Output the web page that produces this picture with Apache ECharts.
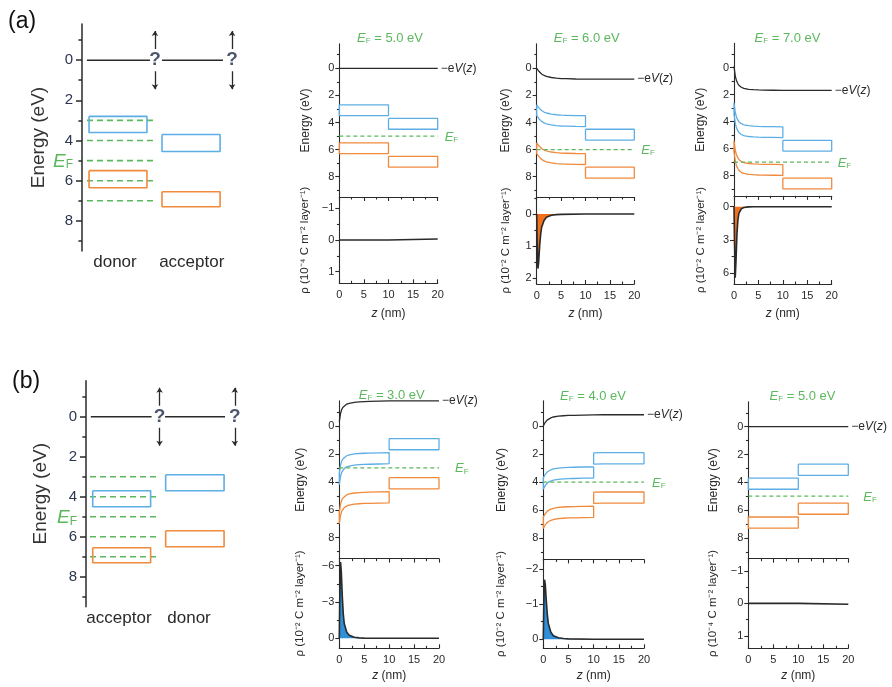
<!DOCTYPE html>
<html>
<head>
<meta charset="utf-8">
<script src="https://cdn.jsdelivr.net/npm/echarts@6/dist/echarts.min.js"></script>
<style>
  html, body { margin: 0; padding: 0; background: #fff; }
  #chart { width: 892px; height: 687px; }
</style>
</head>
<body>
<div id="chart"></div>
<script>
// depth (nm) where the potential / band edges were read
const zPts = [0, 0.25, 0.5, 0.75, 1, 1.5, 2, 3, 4, 5, 6, 8, 10, 12, 15, 20];
// depth (nm) where the charge density spikes were read
const zRho = [0, 0.1, 0.25, 0.4, 0.6, 0.8, 1, 1.5, 2, 3, 4, 5, 10, 20];
// flat density with a small step at the interface
const zStep = [0, 10, 10, 20];

// bands [upper edge, lower edge] in eV
const donorLumo = [2.7, 3.5];
const donorHomo = [5.5, 6.3];
const acceptorLumo = [3.7, 4.5];
const acceptorHomo = [6.5, 7.3];

// bands as drawn in the two schematics (left layer, right layer)
const schemALumo = [[2.8, 3.6], [3.7, 4.55]];
const schemAHomo = [[5.5, 6.35], [6.55, 7.3]];
const schemBLumo = [[3.7, 4.5], [2.9, 3.7]];
const schemBHomo = [[6.55, 7.3], [5.7, 6.5]];
const schemALabels = ['donor', 'acceptor'];
const schemBLabels = ['acceptor', 'donor'];
const fermiGuides = [3, 4, 5, 6, 7];

const efA = [5.0, 6.0, 7.0];
const efB = [3.0, 4.0, 5.0];

// -eV(z) in eV on zPts
const potA1 = [0, 0, 0, 0, 0, 0, 0, 0, 0, 0, 0, 0, 0, 0, 0, 0];
const potA2 = [0, 0.12, 0.24, 0.34, 0.42, 0.53, 0.6, 0.68, 0.73, 0.76, 0.77, 0.79, 0.8, 0.8, 0.8, 0.8];
const potA3 = [-0.1, 0.6, 0.95, 1.15, 1.3, 1.45, 1.53, 1.6, 1.63, 1.65, 1.66, 1.67, 1.68, 1.68, 1.68, 1.68];
const potB1 = [-0.3, -0.9, -1.2, -1.35, -1.45, -1.57, -1.63, -1.7, -1.73, -1.75, -1.76, -1.78, -1.8, -1.8, -1.8, -1.8];
const potB2 = [0, -0.18, -0.32, -0.42, -0.5, -0.58, -0.64, -0.7, -0.73, -0.75, -0.76, -0.78, -0.79, -0.8, -0.8, -0.8];
const potB3 = [0, 0, 0, 0, 0, 0, 0, 0, 0, 0, 0, 0, 0, 0, 0, 0];

// charge density per layer
const rhoA1 = [0, 0, -0.03, -0.03];
const rhoA2 = [0, 0.9, 1.7, 1.5, 1.0, 0.65, 0.42, 0.2, 0.1, 0.04, 0.02, 0.01, 0, 0];
const rhoA3 = [0, 3.0, 6.4, 5.0, 2.5, 1.2, 0.6, 0.2, 0.08, 0.02, 0.01, 0, 0, 0];
const rhoB1 = [0, -3.5, -6.3, -5.5, -3.5, -2.0, -1.2, -0.5, -0.25, -0.08, -0.03, -0.01, 0, 0];
const rhoB2 = [0, -1.0, -1.7, -1.55, -1.1, -0.7, -0.45, -0.2, -0.1, -0.04, -0.02, -0.01, 0, 0];
const rhoB3 = [0, 0, 0.03, 0.03];

const rhoTicks = [[-1, 0, 1], [0, 1, 2], [0, 3, 6], [-6, -3, 0], [-2, -1, 0], [-1, 0, 1]];
const rhoExp = ['⁻⁴', '⁻²', '⁻²', '⁻²', '⁻²', '⁻⁴'];
const energyTicks = [0, 2, 4, 6, 8];
const energyMinor = [-1, 1, 3, 5, 7, 9];

const FONT = 'Liberation Sans, Arial, Helvetica, sans-serif';
const INK = '#2a2a2a';
const BLUE = '#5eaee6';
const ORANGE = '#f08a3c';
const GREEN = '#5cb85c';
const FILL_ORANGE = '#f0701e';
const FILL_BLUE = '#2f8fd8';

const panels = [
  { ef: efA[0], pot: potA1, rz: zStep, rho: rhoA1, layers: [[donorLumo, donorHomo], [acceptorLumo, acceptorHomo]], fill: null },
  { ef: efA[1], pot: potA2, rz: zRho, rho: rhoA2, layers: [[donorLumo, donorHomo], [acceptorLumo, acceptorHomo]], fill: FILL_ORANGE },
  { ef: efA[2], pot: potA3, rz: zRho, rho: rhoA3, layers: [[donorLumo, donorHomo], [acceptorLumo, acceptorHomo]], fill: FILL_ORANGE },
  { ef: efB[0], pot: potB1, rz: zRho, rho: rhoB1, layers: [[acceptorLumo, acceptorHomo], [donorLumo, donorHomo]], fill: FILL_BLUE },
  { ef: efB[1], pot: potB2, rz: zRho, rho: rhoB2, layers: [[acceptorLumo, acceptorHomo], [donorLumo, donorHomo]], fill: FILL_BLUE },
  { ef: efB[2], pot: potB3, rz: zStep, rho: rhoB3, layers: [[acceptorLumo, acceptorHomo], [donorLumo, donorHomo]], fill: null },
];

// pixel layout
const plotLayout = [
  { left: 339.3, right: 437.7, top: 43.9, sep: 197.0, bottom: 283.3, rho: [-1.36, 1.37], nameGap: 28, xNameGap: 24, efGap: 7, title: [390, 30] },
  { left: 536.7, right: 634.3, top: 43.9, sep: 197.0, bottom: 284, rho: [-0.53, 2.18], nameGap: 25, xNameGap: 24, efGap: 7, title: [586.7, 30] },
  { left: 734, right: 831.7, top: 43.4, sep: 195.9, bottom: 284, rho: [-0.97, 6.96], nameGap: 27, xNameGap: 24, efGap: 6, title: [787.5, 30] },
  { left: 339.3, right: 439, top: 400.9, sep: 558.6, bottom: 648.3, rho: [-6.59, 0.83], nameGap: 33, xNameGap: 21, efGap: 16, title: [391.7, 387] },
  { left: 543.3, right: 644, top: 400.7, sep: 559.4, bottom: 648.3, rho: [-2.28, 0.26], nameGap: 36, xNameGap: 21, efGap: 8, title: [593, 388] },
  { left: 748.3, right: 848.3, top: 401.7, sep: 558.7, bottom: 648.3, rho: [-1.37, 1.38], nameGap: 29, xNameGap: 21, efGap: 15, title: [802.5, 388] },
];
const schemLayout = [
  { left: 82, top: 24, height: 227, nameGap: 34, line: [[0.31, 4.25], [5.0, 8.81]], mark: [4.56, 9.38], box: [[0.44, 4.06], [5.0, 8.63]], dash: [0.31, 4.56], labelX: [2.06, 6.86], letter: [8, 10] },
  { left: 86, top: 380.7, height: 226, nameGap: 36, line: [[0.3, 4.1], [4.94, 8.69]], mark: [4.6, 9.3], box: [[0.42, 4.04], [4.98, 8.63]], dash: [0.25, 4.44], labelX: [2.06, 6.44], letter: [12, 370] },
];

const grids = [], xAxes = [], yAxes = [], series = [], titles = [];
const push = (arr, o) => { arr.push(o); return arr.length - 1; };
const fmt = v => (v < 0 ? '\u2212' + Math.abs(v) : String(v));
const efRich = (size, sub) => ({
  e: { fontStyle: 'italic', fontWeight: 'normal', fontSize: size, color: GREEN, fontFamily: FONT, verticalAlign: 'bottom', lineHeight: size + 2 },
  f: { fontSize: sub, fontWeight: 'normal', color: GREEN, fontFamily: FONT, verticalAlign: 'bottom', lineHeight: sub },
  n: { fontSize: size, fontWeight: 'normal', color: GREEN, fontFamily: FONT, verticalAlign: 'bottom', lineHeight: size + 2 },
});

function leftAxes(grid, min, max, major, minor, o) {
  const main = push(yAxes, Object.assign({
    gridIndex: grid, type: 'value', position: 'left', min: min, max: max, inverse: true,
    axisLine: { show: true, onZero: false, lineStyle: { color: INK, width: o.lw } },
    axisTick: { show: true, customValues: major, length: o.tick, lineStyle: { color: INK, width: o.lw } },
    axisLabel: { customValues: major, formatter: fmt, fontSize: o.fs, color: INK, fontFamily: FONT, margin: o.margin },
    splitLine: { show: false },
  }, o.extra || {}));
  push(yAxes, {
    gridIndex: grid, type: 'value', position: 'left', min: min, max: max, inverse: true,
    axisLine: { show: false }, axisLabel: { show: false }, splitLine: { show: false },
    axisTick: { show: true, customValues: minor, length: o.tick * 0.6, lineStyle: { color: INK, width: o.lw } },
  });
  return main;
}

function polyLine(xi, yi, data, color, width, extra) {
  return Object.assign({
    type: 'line', xAxisIndex: xi, yAxisIndex: yi, data: data, symbol: 'none', silent: true, clip: false,
    lineStyle: { color: color, width: width },
  }, extra || {});
}

function bandBox(band, pot, z0, z1) {
  const idx = zPts.map((z, i) => i).filter(i => zPts[i] >= z0 && zPts[i] <= z1);
  const top = idx.map(i => [zPts[i], band[0] + pot[i]]);
  const bot = idx.slice().reverse().map(i => [zPts[i], band[1] + pot[i]]);
  return top.concat(bot, [top[0]]);
}

function schematic(L, lumo, homo, names, letter) {
  const g = push(grids, { left: L.left, top: L.top, width: 160, height: L.height });
  const xi = push(xAxes, {
    gridIndex: g, type: 'value', min: 0, max: 10, position: 'bottom',
    axisLine: { show: false, onZero: false }, axisTick: { show: false }, splitLine: { show: false },
    axisLabel: { customValues: L.labelX, formatter: v => names[L.labelX.indexOf(v)], fontSize: 17, color: INK, fontFamily: FONT, margin: 3 },
  });
  const yi = leftAxes(g, -1.8, 9.5, energyTicks, energyMinor, {
    lw: 1.5, tick: 6, fs: 15, margin: 9,
    extra: {
      name: 'Energy (eV)', nameLocation: 'middle', nameGap: L.nameGap,
      nameTextStyle: { fontSize: 19, color: '#333', fontFamily: FONT },
    },
  });
  const ax = yAxes[yi].axisLabel;
  ax.customValues = energyTicks.concat([5]);
  ax.formatter = v => (v === 5 ? '{e|E}{f|F}' : fmt(v));
  ax.rich = efRich(19, 12);
  ax.color = '#2b3550';

  L.line.forEach(s => series.push(polyLine(xi, yi, [[s[0], 0], [s[1], 0]], INK, 1.5)));
  fermiGuides.forEach(e => series.push(polyLine(xi, yi, [[L.dash[0], e], [L.dash[1], e]], GREEN, 1.6, {
    lineStyle: { color: GREEN, width: 1.6, type: [6, 4] },
  })));
  [0, 1].forEach(k => {
    const x0 = L.box[k][0], x1 = L.box[k][1];
    [[lumo[k], BLUE], [homo[k], ORANGE]].forEach(([b, c]) => {
      series.push(polyLine(xi, yi, [[x0, b[0]], [x1, b[0]], [x1, b[1]], [x0, b[1]], [x0, b[0]]], c, 1.6));
    });
  });
  const arrows = [];
  L.mark.forEach(m => {
    arrows.push({ coords: [[m, -0.55], [m, -1.45]] });
    arrows.push({ coords: [[m, 0.55], [m, 1.45]] });
  });
  series.push({
    type: 'lines', coordinateSystem: 'cartesian2d', xAxisIndex: xi, yAxisIndex: yi, silent: true,
    symbol: ['none', 'arrow'], symbolSize: 5, data: arrows, lineStyle: { color: INK, width: 1.3, opacity: 1 },
  });
  series.push({
    type: 'scatter', xAxisIndex: xi, yAxisIndex: yi, symbolSize: 0, silent: true,
    data: L.mark.map(m => [m, 0]),
    label: { show: true, position: 'inside', formatter: '?', fontSize: 19, fontWeight: 'bold', color: '#1f2a4a', fontFamily: FONT },
  });
  titles.push({ text: letter, left: L.letter[0], top: L.letter[1], padding: 0, textStyle: { fontSize: 23, fontWeight: 'normal', color: '#111', fontFamily: FONT } });
}

function plot(L, P, k) {
  const w = L.right - L.left;
  const gu = push(grids, { left: L.left, top: L.top, width: w, height: L.sep - L.top });
  const gl = push(grids, { left: L.left, top: L.sep, width: w, height: L.bottom - L.sep });
  const xu = push(xAxes, { gridIndex: gu, type: 'value', min: 0, max: 20, show: false });
  const yu = leftAxes(gu, -1.8, 9.5, energyTicks, energyMinor, {
    lw: 1.1, tick: 4, fs: 11, margin: 5,
    extra: { name: 'Energy (eV)', nameLocation: 'middle', nameGap: L.nameGap, nameTextStyle: { fontSize: 12, color: INK, fontFamily: FONT } },
  });
  const xl = push(xAxes, {
    gridIndex: gl, type: 'value', min: 0, max: 20, interval: 5, position: 'bottom',
    axisLine: { onZero: false, lineStyle: { color: INK, width: 1.1 } },
    axisTick: { inside: true, length: 4, lineStyle: { color: INK, width: 1.1 } },
    minorTick: { show: true, splitNumber: 2, length: 2.5, lineStyle: { color: INK, width: 1.1 } },
    axisLabel: { fontSize: 11, color: INK, fontFamily: FONT, margin: 6 },
    splitLine: { show: false }, minorSplitLine: { show: false },
    name: '{i|z} (nm)', nameLocation: 'middle', nameGap: L.xNameGap,
    nameTextStyle: { fontSize: 12, color: INK, fontFamily: FONT, rich: { i: { fontStyle: 'italic', fontSize: 12, color: INK, fontFamily: FONT } } },
  });
  push(xAxes, {
    gridIndex: gl, type: 'value', min: 0, max: 20, interval: 5, position: 'top',
    axisLine: { onZero: false, lineStyle: { color: INK, width: 1.1 } },
    axisTick: { inside: true, length: 4, lineStyle: { color: INK, width: 1.1 } },
    minorTick: { show: true, splitNumber: 2, length: 2.5, lineStyle: { color: INK, width: 1.1 } },
    axisLabel: { show: false }, splitLine: { show: false }, minorSplitLine: { show: false },
  });
  const maj = rhoTicks[k];
  const step = maj[1] - maj[0];
  const minor = [maj[0] - step / 2].concat(maj.map(v => v + step / 2)).filter(v => v > L.rho[0] && v < L.rho[1]);
  const yl = leftAxes(gl, L.rho[0], L.rho[1], maj, minor, {
    lw: 1.1, tick: 4, fs: 11, margin: 5,
    extra: {
      name: 'ρ (10' + rhoExp[k] + ' C m⁻² layer⁻¹)', nameLocation: 'middle', nameGap: L.nameGap,
      nameTextStyle: { fontSize: 11.5, color: INK, fontFamily: FONT },
    },
  });

  // bands
  P.layers.forEach((layer, j) => {
    const z0 = j === 0 ? 0 : 10, z1 = j === 0 ? 10 : 20;
    series.push(polyLine(xu, yu, bandBox(layer[0], P.pot, z0, z1), BLUE, 1.3));
    series.push(polyLine(xu, yu, bandBox(layer[1], P.pot, z0, z1), ORANGE, 1.3));
  });
  // Fermi level
  series.push(polyLine(xu, yu, [[0, P.ef], [20, P.ef]], GREEN, 1.3, {
    lineStyle: { color: GREEN, width: 1.3, type: [4, 3] },
    endLabel: { show: true, formatter: '{e|E}{f|F}', distance: L.efGap, rich: efRich(13, 8) },
  }));
  // potential
  series.push(polyLine(xu, yu, zPts.map((z, i) => [z, P.pot[i]]), INK, 1.3, {
    endLabel: {
      show: true, formatter: '−e{i|V}({i|z})', distance: 3, fontSize: 12, color: INK, fontFamily: FONT,
      rich: { i: { fontStyle: 'italic', fontSize: 12, color: INK, fontFamily: FONT } },
    },
  }));
  // charge density
  const rs = polyLine(xl, yl, P.rz.map((z, i) => [z, P.rho[i]]), INK, 1.6);
  if (P.fill) rs.areaStyle = { color: P.fill, opacity: 1, origin: 0 };
  series.push(rs);

  titles.push({
    text: '{e|E}{f|F}{n| = ' + P.ef.toFixed(1) + ' eV}', left: L.title[0], top: L.title[1], textAlign: 'center', padding: 0,
    textStyle: { fontWeight: 'normal', rich: efRich(13, 8) },
  });
}

schematic(schemLayout[0], schemALumo, schemAHomo, schemALabels, '(a)');
schematic(schemLayout[1], schemBLumo, schemBHomo, schemBLabels, '(b)');
panels.forEach((P, k) => plot(plotLayout[k], P, k));

const chart = echarts.init(document.getElementById('chart'));
chart.setOption({
  animation: false,
  backgroundColor: '#fff',
  textStyle: { fontFamily: FONT },
  title: titles,
  grid: grids,
  xAxis: xAxes,
  yAxis: yAxes,
  series: series,
});
</script>
</body>
</html>
